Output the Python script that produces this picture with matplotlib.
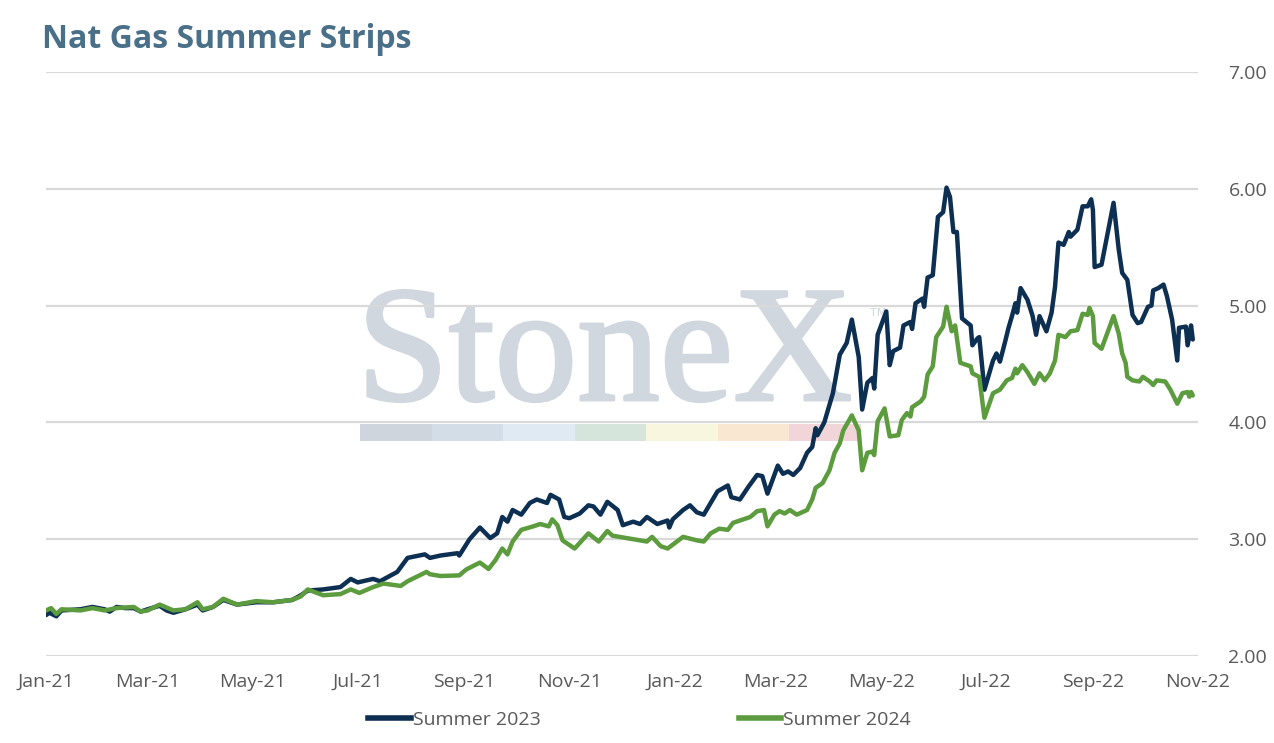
import matplotlib
matplotlib.use("Agg")
import matplotlib.pyplot as plt
import matplotlib.dates as mdates
import matplotlib.patheffects as pe
from matplotlib.patches import Rectangle
from matplotlib.lines import Line2D
import pandas as pd

plt.rcParams['font.family'] = ['Open Sans', 'DejaVu Sans']

# Summer 2023 strip (dark blue)
s23_dates = [
    "2021-01-01", "2021-01-03", "2021-01-07", "2021-01-10", "2021-01-21", "2021-01-28",
    "2021-02-04", "2021-02-07", "2021-02-11", "2021-02-16", "2021-02-21", "2021-02-25",
    "2021-03-01", "2021-03-08", "2021-03-12", "2021-03-16", "2021-03-23", "2021-03-30",
    "2021-04-02", "2021-04-08", "2021-04-14", "2021-04-22", "2021-05-03", "2021-05-13",
    "2021-05-24", "2021-05-29", "2021-06-02", "2021-06-11", "2021-06-21", "2021-06-27",
    "2021-07-01", "2021-07-10", "2021-07-14", "2021-07-24", "2021-07-30", "2021-08-09",
    "2021-08-12", "2021-08-18", "2021-08-28", "2021-08-29", "2021-09-04", "2021-09-10",
    "2021-09-16", "2021-09-20", "2021-09-23", "2021-09-26", "2021-09-29", "2021-10-04",
    "2021-10-09", "2021-10-13", "2021-10-19", "2021-10-21", "2021-10-26", "2021-10-29",
    "2021-11-01", "2021-11-07", "2021-11-12", "2021-11-15", "2021-11-19", "2021-11-23",
    "2021-11-29", "2021-12-02", "2021-12-08", "2021-12-12", "2021-12-16", "2021-12-22",
    "2021-12-28", "2021-12-29", "2021-12-31", "2022-01-06", "2022-01-10", "2022-01-14",
    "2022-01-18", "2022-01-26", "2022-02-01", "2022-02-03", "2022-02-08", "2022-02-13",
    "2022-02-18", "2022-02-21", "2022-02-24", "2022-03-02", "2022-03-05", "2022-03-08",
    "2022-03-11", "2022-03-15", "2022-03-19", "2022-03-22", "2022-03-24", "2022-03-25",
    "2022-03-29", "2022-04-03", "2022-04-07", "2022-04-11", "2022-04-14", "2022-04-18",
    "2022-04-20", "2022-04-23", "2022-04-26", "2022-04-27", "2022-04-29", "2022-05-04",
    "2022-05-06", "2022-05-08", "2022-05-12", "2022-05-14", "2022-05-18", "2022-05-19",
    "2022-05-21", "2022-05-25", "2022-05-26", "2022-05-28", "2022-05-31", "2022-06-03",
    "2022-06-06", "2022-06-08", "2022-06-10", "2022-06-12", "2022-06-14", "2022-06-17",
    "2022-06-22", "2022-06-23", "2022-06-26", "2022-06-27", "2022-06-30", "2022-07-05",
    "2022-07-07", "2022-07-09", "2022-07-12", "2022-07-14", "2022-07-16", "2022-07-18",
    "2022-07-19", "2022-07-21", "2022-07-25", "2022-07-28", "2022-07-30", "2022-08-01",
    "2022-08-05", "2022-08-08", "2022-08-10", "2022-08-12", "2022-08-15", "2022-08-18",
    "2022-08-19", "2022-08-23", "2022-08-26", "2022-08-29", "2022-08-31", "2022-09-01",
    "2022-09-02", "2022-09-06", "2022-09-13", "2022-09-16", "2022-09-18", "2022-09-21",
    "2022-09-23", "2022-09-24", "2022-09-27", "2022-09-29", "2022-10-03", "2022-10-05",
    "2022-10-06", "2022-10-09", "2022-10-12", "2022-10-14", "2022-10-17", "2022-10-20",
    "2022-10-21", "2022-10-25", "2022-10-26", "2022-10-28", "2022-10-29",
]
s23_vals = [
    2.35, 2.37, 2.34, 2.39, 2.40, 2.42,
    2.40, 2.38, 2.42, 2.41, 2.41, 2.38,
    2.40, 2.43, 2.39, 2.37, 2.40, 2.44,
    2.39, 2.42, 2.48, 2.44, 2.46, 2.46,
    2.48, 2.52, 2.56, 2.57, 2.59, 2.66,
    2.63, 2.66, 2.64, 2.72, 2.84, 2.87,
    2.84, 2.86, 2.88, 2.86, 3.00, 3.10,
    3.01, 3.05, 3.19, 3.15, 3.25, 3.21,
    3.31, 3.34, 3.31, 3.38, 3.34, 3.19,
    3.18, 3.22, 3.29, 3.28, 3.21, 3.32,
    3.25, 3.12, 3.15, 3.13, 3.19, 3.13,
    3.16, 3.10, 3.17, 3.25, 3.29, 3.23,
    3.21, 3.41, 3.46, 3.36, 3.34, 3.45,
    3.55, 3.54, 3.39, 3.63, 3.56, 3.58,
    3.55, 3.61, 3.74, 3.79, 3.95, 3.89,
    4.00, 4.25, 4.58, 4.68, 4.88, 4.56,
    4.11, 4.34, 4.38, 4.29, 4.75, 4.95,
    4.49, 4.61, 4.64, 4.83, 4.86, 4.80,
    5.02, 5.06, 4.99, 5.24, 5.26, 5.76,
    5.80, 6.01, 5.93, 5.63, 5.63, 4.89,
    4.83, 4.66, 4.72, 4.73, 4.28, 4.53,
    4.59, 4.52, 4.69, 4.81, 4.91, 5.02,
    4.94, 5.15, 5.05, 4.91, 4.75, 4.91,
    4.78, 4.94, 5.16, 5.54, 5.52, 5.63,
    5.59, 5.65, 5.85, 5.85, 5.91, 5.82,
    5.33, 5.35, 5.88, 5.48, 5.28, 5.22,
    5.02, 4.92, 4.85, 4.86, 4.99, 5.00,
    5.13, 5.15, 5.18, 5.08, 4.88, 4.53,
    4.81, 4.82, 4.66, 4.83, 4.71,
]

# Summer 2024 strip (green)
s24_dates = [
    "2021-01-01", "2021-01-04", "2021-01-07", "2021-01-10", "2021-01-21", "2021-01-28",
    "2021-02-04", "2021-02-11", "2021-02-21", "2021-02-25", "2021-03-01", "2021-03-08",
    "2021-03-16", "2021-03-23", "2021-03-30", "2021-04-02", "2021-04-08", "2021-04-14",
    "2021-04-22", "2021-05-03", "2021-05-13", "2021-05-24", "2021-05-29", "2021-06-02",
    "2021-06-11", "2021-06-21", "2021-06-27", "2021-07-02", "2021-07-10", "2021-07-16",
    "2021-07-26", "2021-07-30", "2021-08-10", "2021-08-12", "2021-08-18", "2021-08-29",
    "2021-09-02", "2021-09-10", "2021-09-15", "2021-09-19", "2021-09-23", "2021-09-26",
    "2021-09-29", "2021-10-04", "2021-10-11", "2021-10-15", "2021-10-20", "2021-10-22",
    "2021-10-25", "2021-10-28", "2021-11-04", "2021-11-12", "2021-11-18", "2021-11-23",
    "2021-11-26", "2021-12-08", "2021-12-16", "2021-12-19", "2021-12-24", "2021-12-28",
    "2022-01-06", "2022-01-14", "2022-01-18", "2022-01-22", "2022-01-27", "2022-02-01",
    "2022-02-04", "2022-02-08", "2022-02-14", "2022-02-18", "2022-02-22", "2022-02-24",
    "2022-02-28", "2022-03-03", "2022-03-06", "2022-03-09", "2022-03-13", "2022-03-19",
    "2022-03-22", "2022-03-24", "2022-03-28", "2022-04-01", "2022-04-04", "2022-04-07",
    "2022-04-09", "2022-04-14", "2022-04-18", "2022-04-20", "2022-04-23", "2022-04-26",
    "2022-04-27", "2022-04-29", "2022-05-03", "2022-05-06", "2022-05-11", "2022-05-13",
    "2022-05-16", "2022-05-18", "2022-05-19", "2022-05-24", "2022-05-26", "2022-05-28",
    "2022-05-31", "2022-06-02", "2022-06-06", "2022-06-08", "2022-06-11", "2022-06-13",
    "2022-06-16", "2022-06-22", "2022-06-23", "2022-06-27", "2022-06-30", "2022-07-05",
    "2022-07-09", "2022-07-13", "2022-07-16", "2022-07-18", "2022-07-19", "2022-07-22",
    "2022-07-25", "2022-07-29", "2022-08-01", "2022-08-04", "2022-08-07", "2022-08-10",
    "2022-08-12", "2022-08-16", "2022-08-19", "2022-08-23", "2022-08-26", "2022-08-29",
    "2022-08-30", "2022-09-01", "2022-09-02", "2022-09-06", "2022-09-13", "2022-09-16",
    "2022-09-18", "2022-09-20", "2022-09-21", "2022-09-24", "2022-09-28", "2022-09-30",
    "2022-10-04", "2022-10-06", "2022-10-08", "2022-10-13", "2022-10-16", "2022-10-20",
    "2022-10-23", "2022-10-26", "2022-10-27", "2022-10-28", "2022-10-29",
]
s24_vals = [
    2.39, 2.41, 2.36, 2.40, 2.39, 2.41,
    2.39, 2.41, 2.42, 2.38, 2.39, 2.44,
    2.39, 2.40, 2.46, 2.40, 2.42, 2.49,
    2.44, 2.47, 2.46, 2.48, 2.51, 2.57,
    2.52, 2.53, 2.57, 2.54, 2.59, 2.62,
    2.60, 2.64, 2.72, 2.70, 2.685, 2.69,
    2.74, 2.80, 2.745, 2.82, 2.92, 2.87,
    2.98, 3.08, 3.11, 3.13, 3.11, 3.17,
    3.12, 2.99, 2.92, 3.05, 2.98, 3.07,
    3.03, 3.00, 2.98, 3.02, 2.94, 2.92,
    3.02, 2.99, 2.98, 3.05, 3.09, 3.08,
    3.14, 3.16, 3.19, 3.24, 3.25, 3.11,
    3.21, 3.24, 3.22, 3.25, 3.21, 3.25,
    3.34, 3.44, 3.48, 3.59, 3.74, 3.82,
    3.93, 4.06, 3.93, 3.59, 3.74, 3.75,
    3.72, 4.01, 4.12, 3.88, 3.89, 4.02,
    4.08, 4.05, 4.13, 4.18, 4.22, 4.41,
    4.48, 4.73, 4.82, 4.99, 4.78, 4.83,
    4.51, 4.48, 4.42, 4.39, 4.04, 4.25,
    4.28, 4.36, 4.38, 4.46, 4.42, 4.49,
    4.43, 4.33, 4.42, 4.36, 4.42, 4.53,
    4.75, 4.73, 4.78, 4.79, 4.93, 4.92,
    4.98, 4.91, 4.68, 4.63, 4.91, 4.76,
    4.59, 4.51, 4.39, 4.36, 4.35, 4.39,
    4.35, 4.32, 4.36, 4.35, 4.28, 4.16,
    4.25, 4.26, 4.22, 4.26, 4.23,
]

series_names = ["Summer 2023", "Summer 2024"]
series_colors = ["#0c2f52", "#5c9c3e"]
y_ticks = [2, 3, 4, 5, 6, 7]

fig = plt.figure(figsize=(12.74, 7.43), dpi=100)
ax = fig.add_axes([0.0361, 0.1171, 0.9042, 0.786])
ax.patch.set_visible(False)

# StoneX watermark behind the chart
wm_color = "#d0d7df"
fig.text(0.2800, 0.4617, "StoneX", fontfamily="Liberation Serif", fontsize=119,
         color=wm_color, va="baseline", ha="left", zorder=-2,
         path_effects=[pe.withStroke(linewidth=2.2, foreground=wm_color)])
fig.text(0.683, 0.5747, "TM", fontfamily="DejaVu Sans", fontsize=8,
         color=wm_color, va="baseline", ha="left", zorder=-2)
bar_colors = ["#cfd5dd", "#d3dde7", "#dfeaf3", "#d6e5dc", "#f8f6de", "#f9e7d1", "#f2d5d8"]
seg_w = 71.5 / 1274
for i, c in enumerate(bar_colors):
    fig.add_artist(Rectangle((360 / 1274 + i * seg_w, 1 - 441 / 743), seg_w, 17 / 743,
                             transform=fig.transFigure, facecolor=c, edgecolor="none",
                             zorder=-2))

x23 = pd.to_datetime(s23_dates)
x24 = pd.to_datetime(s24_dates)
ax.plot(x23, s23_vals, color=series_colors[0], lw=3.2, solid_joinstyle="round",
        solid_capstyle="round", label=series_names[0], zorder=3)
ax.plot(x24, s24_vals, color=series_colors[1], lw=3.2, solid_joinstyle="round",
        solid_capstyle="round", label=series_names[1], zorder=4)

ax.set_ylim(2, 7)
ax.set_xlim(pd.Timestamp("2021-01-01"), pd.Timestamp("2022-11-01"))
ax.set_yticks(y_ticks)
ax.yaxis.set_major_formatter(plt.FuncFormatter(lambda v, p: f"{v:.2f}"))
ax.yaxis.tick_right()
ax.set_xticks(pd.date_range("2021-01-01", "2022-11-01", freq="2MS"))
ax.xaxis.set_major_formatter(mdates.DateFormatter("%b-%y"))
ax.tick_params(axis="both", length=0, labelsize=14, labelcolor="#595959")
ax.tick_params(axis="y", pad=22)
ax.tick_params(axis="x", pad=12)
ax.grid(axis="y", color="#d9d9d9", lw=1.6)
ax.set_axisbelow(True)
for s in ax.spines.values():
    s.set_visible(False)

fig.text(0.033, 0.947, "Nat Gas Summer Strips", fontsize=23, fontweight="bold",
         color="#4a7089", ha="left", va="center")

handles = [Line2D([], [], color=c, lw=4) for c in series_colors]
ax.legend(handles, series_names, loc="center", bbox_to_anchor=(0.502, 0.031),
          bbox_transform=fig.transFigure, ncol=2, frameon=False, fontsize=14,
          labelcolor="#595959", handlelength=2.2, handletextpad=0.1, columnspacing=10.2)

fig.savefig("out.png", dpi=100)
